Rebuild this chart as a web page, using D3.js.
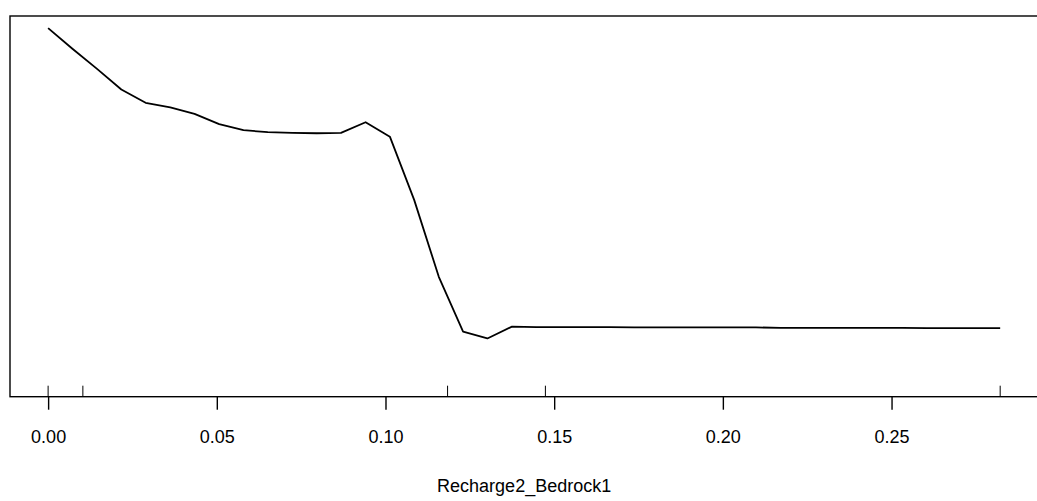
<!DOCTYPE html>
<html>
<head>
<meta charset="utf-8">
<script src="https://cdn.jsdelivr.net/npm/d3@7"></script>
<style>
  html, body { margin: 0; padding: 0; background: #fff; }
  svg { display: block; }
  text { font-family: "Liberation Sans", Arial, sans-serif; fill: #000; }
</style>
</head>
<body>
<svg id="chart" width="1037" height="501"></svg>
<script>
// Partial dependence of the response on Recharge2_Bedrock1
const xValues = [0, 0.0072, 0.0145, 0.0217, 0.0289, 0.0362, 0.0434, 0.0507, 0.0579, 0.0651,
  0.0724, 0.0796, 0.0868, 0.0941, 0.1013, 0.1085, 0.1158, 0.1230, 0.1302, 0.1375,
  0.1447, 0.1519, 0.1592, 0.1664, 0.1737, 0.1809, 0.1881, 0.1954, 0.2026, 0.2098,
  0.2171, 0.2243, 0.2315, 0.2388, 0.2460, 0.2532, 0.2605, 0.2677, 0.2749, 0.2822];
const yValues = [0.968, 0.914, 0.861, 0.807, 0.772, 0.760, 0.743, 0.716, 0.700, 0.695,
  0.693, 0.692, 0.693, 0.721, 0.683, 0.517, 0.315, 0.171, 0.153, 0.184,
  0.183, 0.183, 0.183, 0.183, 0.182, 0.182, 0.182, 0.182, 0.182, 0.182,
  0.181, 0.181, 0.181, 0.181, 0.181, 0.181, 0.180, 0.180, 0.180, 0.180];
// Deciles of the predictor, drawn as a rug along the bottom
const rugValues = [0, 0.0103, 0.1184, 0.1474, 0.2822];
const xTicks = [0, 0.05, 0.10, 0.15, 0.20, 0.25];
const xLabel = "Recharge2_Bedrock1";

const svg = d3.select("#chart");
const plotLeft = 10, plotRight = 1038.3, plotTop = 16, plotBottom = 396.7;

const x = d3.scaleLinear().domain([-0.0113, 0.2935]).range([plotLeft, plotRight]);
const y = d3.scaleLinear().domain([0, 1]).range([plotBottom, plotTop]);

// Plot frame
svg.append("rect")
  .attr("x", plotLeft).attr("y", plotTop)
  .attr("width", plotRight - plotLeft).attr("height", plotBottom - plotTop)
  .attr("fill", "none").attr("stroke", "#000").attr("stroke-width", 1.4);

// Bottom axis
const axis = d3.axisBottom(x)
  .tickValues(xTicks)
  .tickFormat(d3.format(".2f"))
  .tickSize(13)
  .tickPadding(20);
const gAxis = svg.append("g")
  .attr("transform", `translate(0,${plotBottom})`)
  .call(axis);
gAxis.select(".domain").remove();
gAxis.selectAll(".tick line").attr("stroke", "#000").attr("stroke-width", 1.4);
gAxis.selectAll(".tick text")
  .attr("y", 46.5)
  .attr("dy", null)
  .attr("fill", "#000")
  .attr("font-size", 18)
  .attr("font-family", "Liberation Sans, Arial, sans-serif");

// Rug marks
svg.append("g")
  .selectAll("line")
  .data(rugValues)
  .join("line")
  .attr("x1", d => x(d)).attr("x2", d => x(d))
  .attr("y1", plotBottom).attr("y2", plotBottom - 11)
  .attr("stroke", "#000").attr("stroke-width", 1);

// Partial dependence curve
const pts = xValues.map((v, i) => [v, yValues[i]]);
svg.append("path")
  .datum(pts)
  .attr("fill", "none")
  .attr("stroke", "#000")
  .attr("stroke-width", 1.8)
  .attr("stroke-linejoin", "round")
  .attr("d", d3.line().x(d => x(d[0])).y(d => y(d[1])));

// Axis title
svg.append("text")
  .attr("x", (plotLeft + plotRight) / 2)
  .attr("y", 492.3)
  .attr("text-anchor", "middle")
  .attr("font-size", 18)
  .text(xLabel);
</script>
</body>
</html>
